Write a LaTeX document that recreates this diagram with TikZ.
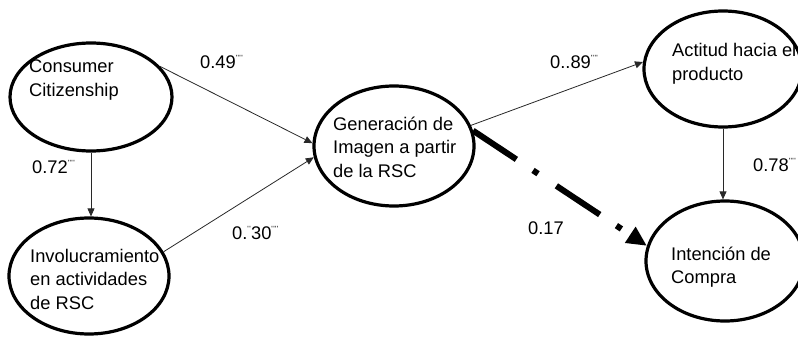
\documentclass[tikz,border=0pt]{standalone}
\usepackage{fontspec}
\setmainfont{Liberation Sans}
\usepackage{tikz}
\usetikzlibrary{shapes.geometric, arrows.meta, positioning, calc}

\definecolor{colLine}{RGB}{40, 40, 40}
\newcommand{\sgtick}{\textquotesingle\kern0.4pt}
\newcommand{\sgmark}{\raisebox{0.9ex}{\fontsize{7.5}{7.5}\selectfont\sgtick\sgtick\sgtick\sgtick}}
\newcommand{\sgpair}{\raisebox{0.9ex}{\fontsize{7.5}{7.5}\selectfont\sgtick\sgtick}}

\begin{document}
\begin{tikzpicture}[x=1pt, y=-1pt,
    every node/.style={font=\fontsize{18.3}{23.5}\selectfont},
    latent/.style={ellipse, draw=black, line width=3.2pt, inner sep=0pt},
    txt/.style={anchor=west, align=left, inner sep=0pt},
    coef/.style={anchor=west, inner sep=0pt},
    path/.style={draw=colLine, line width=0.8pt, -{Triangle[length=8pt, width=7pt]}},
    weak/.style={draw=black, line width=6pt,
        dash pattern=on 52pt off 20pt on 6pt off 22pt,
        -{Triangle[length=20pt, width=18pt]}}
]
    \useasboundingbox (0,0) rectangle (798,337);

    % --- Constructos (elipses) ---
    \node[latent, minimum width=162pt, minimum height=108pt] (cc)  at (91,97)  {};
    \node[latent, minimum width=160pt, minimum height=116pt] (inv) at (89,276) {};
    \node[latent, minimum width=160pt, minimum height=120pt] (gen) at (394,146) {};
    \node[latent, minimum width=158pt, minimum height=116pt] (act) at (723,69)  {};
    \node[latent, minimum width=158pt, minimum height=120pt] (int) at (725,261) {};

    % Textos dentro de las elipses
    \node[txt] (ccT)  at (29,80)   {Consumer\\Citizenship};
    \node[txt] (invT) at (30,279)  {Involucramiento\\en actividades\\de RSC};
    \node[txt] (genT) at (333,147) {Generación de\\Imagen a partir\\de la RSC};
    \node[txt] (actT) at (672,64)  {Actitud hacia el\\producto};
    \node[txt] (intT) at (671,267) {Intención de\\Compra};

    % --- Relaciones ---
    \draw[path] (cc.24) -- (gen.178);
    \draw[path] (inv.18) -- (gen.188);
    \draw[path] (cc.south) -- (cc.south |- inv.north);
    \draw[path] (gen.15) -- (act.175);
    \draw[path] (act.south) -- (act.south |- int.north);
    % Relacion no significativa
    \draw[weak] (gen.11) -- (int.169);

    % --- Coeficientes ---
    \node[coef] (c49) at (200,62)  {0.49\sgmark};
    \node[coef] (c72) at (32,167)  {0.72\sgmark};
    \node[coef] (c30) at (232,233) {0.\sgpair30\sgmark};
    \node[coef] (c89) at (550,62)  {0..89\sgmark};
    \node[coef] (c17) at (528,228) {0.17};
    \node[coef] (c78) at (753,165) {0.78\sgmark};

\end{tikzpicture}
\end{document}
